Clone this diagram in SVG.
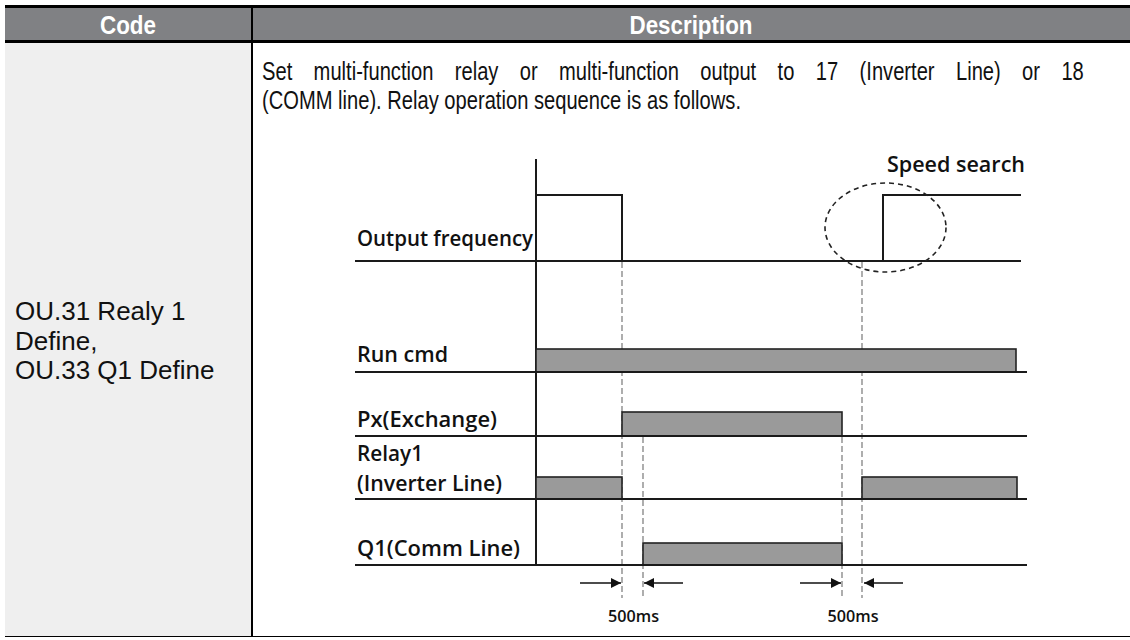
<svg xmlns="http://www.w3.org/2000/svg" width="1130" height="640" viewBox="0 0 1130 640">
<style>
.hdr{font-family:"Liberation Sans",Arial,sans-serif;font-weight:bold;font-size:26px;fill:#fff}
.txt{font-family:"Liberation Sans",Arial,sans-serif;font-size:26px;fill:#111}
.desc{font-family:"Liberation Sans",Arial,sans-serif;font-size:25.5px;fill:#111}
.lbl{font-family:"Open Sans","Noto Sans",sans-serif;font-weight:600;font-size:22px;fill:#111}
.ms{font-family:"Open Sans","Noto Sans",sans-serif;font-weight:600;font-size:17px;fill:#111}
.ln{stroke:#1a1a1a;stroke-width:2;fill:none}
.bar{fill:#9a9a9a;stroke:#222;stroke-width:1.6}
.dash{stroke:#9a9a9a;stroke-width:1.6;stroke-dasharray:6 3;fill:none}
.ell{stroke:#222;stroke-width:1.6;stroke-dasharray:5 4;fill:none}
.arr{stroke:#111;stroke-width:1.6;fill:none}
</style>
<defs>
<marker id="ah" viewBox="0 0 10 10" refX="10" refY="5" markerWidth="10" markerHeight="10" markerUnits="userSpaceOnUse" orient="auto"><path d="M0,0 L10,5 L0,10 z" fill="#111"/></marker>
</defs>
<g id="table">
<rect x="5" y="8" width="1125" height="33" fill="#808184"/>
<rect x="5" y="43" width="247" height="593" fill="#efefef"/>
<line x1="5" y1="6.5" x2="1130" y2="6.5" stroke="#000" stroke-width="3"/>
<line x1="5" y1="41.5" x2="1130" y2="41.5" stroke="#000" stroke-width="3"/>
<line x1="252" y1="8" x2="252" y2="637" stroke="#000" stroke-width="2"/>
<line x1="5" y1="636.5" x2="1130" y2="636.5" stroke="#000" stroke-width="1.2"/>
<text class="hdr" x="128" y="34" text-anchor="middle" textLength="56" lengthAdjust="spacingAndGlyphs">Code</text>
<text class="hdr" x="691" y="34" text-anchor="middle" textLength="123" lengthAdjust="spacingAndGlyphs">Description</text>
</g>
<g id="code-cell">
<text class="txt" x="15" y="320">OU.31 Realy 1</text>
<text class="txt" x="15" y="349.5">Define,</text>
<text class="txt" x="15" y="379">OU.33 Q1 Define</text>
</g>
<g id="description-text">
<text class="desc" transform="translate(262,80) scale(0.79,1)" style="word-spacing:20px">Set multi-function relay or multi-function output to 17 (Inverter Line) or 18</text>
<text class="desc" transform="translate(262,109) scale(0.79,1)">(COMM line). Relay operation sequence is as follows.</text>
</g>
<g id="connectors">
<line class="dash" x1="622" y1="262" x2="622" y2="598"/>
<line class="dash" x1="643" y1="437" x2="643" y2="598"/>
<line class="dash" x1="842" y1="437" x2="842" y2="598"/>
<line class="dash" x1="862" y1="262" x2="862" y2="598"/>
<line class="arr" x1="580" y1="583" x2="621" y2="583" marker-end="url(#ah)"/>
<line class="arr" x1="683" y1="583" x2="644" y2="583" marker-end="url(#ah)"/>
<line class="arr" x1="800" y1="583" x2="841" y2="583" marker-end="url(#ah)"/>
<line class="arr" x1="903" y1="583" x2="864" y2="583" marker-end="url(#ah)"/>
</g>
<g id="axis">
<line class="ln" x1="536" y1="159" x2="536" y2="566"/>
</g>
<g id="output-frequency">
<text class="lbl" x="357" y="246" textLength="176" lengthAdjust="spacingAndGlyphs">Output frequency</text>
<polyline class="ln" points="536,195 622,195 622,261"/>
<line class="ln" x1="355" y1="261" x2="1021" y2="261"/>
<polyline class="ln" points="883,261 883,195 1021,195"/>
<ellipse class="ell" cx="885.5" cy="227.5" rx="60.5" ry="44.5"/>
<text class="lbl" x="887" y="172" textLength="138" lengthAdjust="spacingAndGlyphs">Speed search</text>
</g>
<g id="run-cmd">
<text class="lbl" x="357" y="362" textLength="91" lengthAdjust="spacingAndGlyphs">Run cmd</text>
<rect class="bar" x="536" y="349" width="480" height="23"/>
<line class="ln" x1="355" y1="372" x2="1027" y2="372"/>
</g>
<g id="px-exchange">
<text class="lbl" x="357" y="427" textLength="140" lengthAdjust="spacingAndGlyphs">Px(Exchange)</text>
<rect class="bar" x="622" y="412" width="220" height="24"/>
<line class="ln" x1="355" y1="436" x2="1027" y2="436"/>
</g>
<g id="relay1">
<text class="lbl" x="357" y="461" textLength="66" lengthAdjust="spacingAndGlyphs">Relay1</text>
<text class="lbl" x="357" y="491" textLength="145" lengthAdjust="spacingAndGlyphs">(Inverter Line)</text>
<rect class="bar" x="536" y="477" width="86" height="22"/>
<rect class="bar" x="862" y="477" width="155" height="22"/>
<line class="ln" x1="355" y1="499" x2="1027" y2="499"/>
</g>
<g id="q1">
<text class="lbl" x="357" y="556" textLength="163" lengthAdjust="spacingAndGlyphs">Q1(Comm Line)</text>
<rect class="bar" x="643" y="543" width="199" height="22"/>
<line class="ln" x1="355" y1="565" x2="1027" y2="565"/>
</g>
<g id="timing-labels">
<text class="ms" x="633.5" y="622" text-anchor="middle" textLength="51" lengthAdjust="spacingAndGlyphs">500ms</text>
<text class="ms" x="853" y="622" text-anchor="middle" textLength="51" lengthAdjust="spacingAndGlyphs">500ms</text>
</g>
</svg>
